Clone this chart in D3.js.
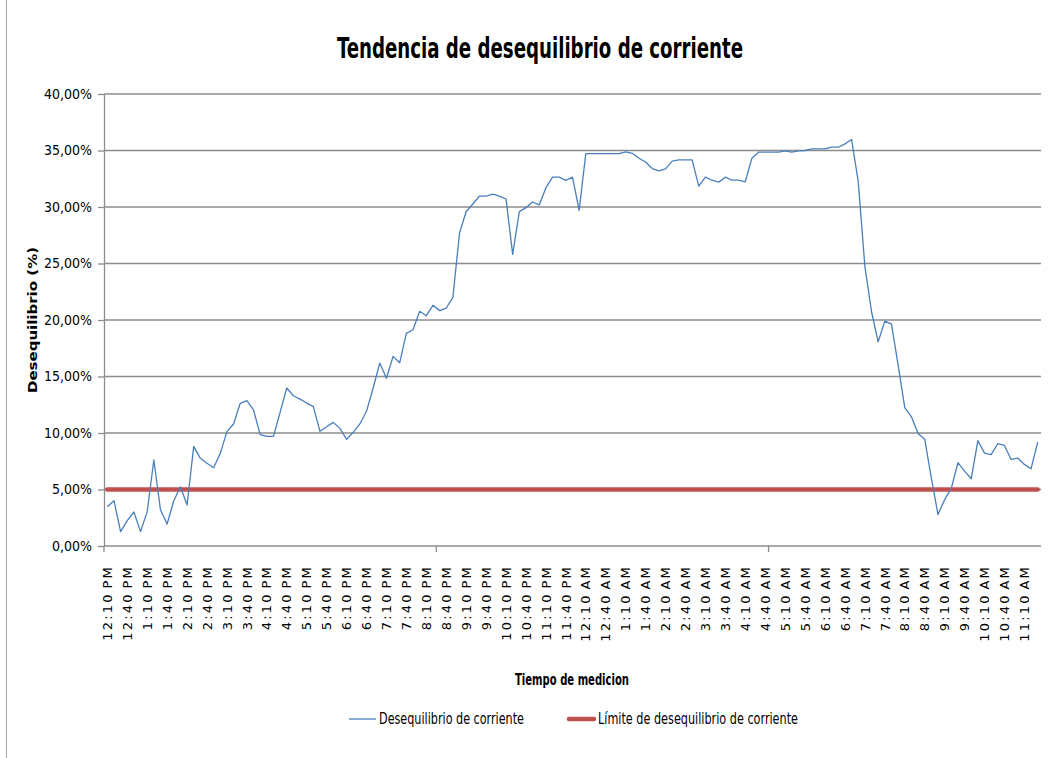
<!DOCTYPE html>
<html>
<head>
<meta charset="utf-8">
<script src="https://cdn.jsdelivr.net/npm/d3@7"></script>
<style>
  html, body { margin: 0; padding: 0; background: #fff; }
  svg { display: block; }
  .narrow { font-family: "Liberation Sans Narrow", "DejaVu Sans Condensed", "Open Sans", sans-serif; }
  .wide { font-family: "DejaVu Sans", Verdana, sans-serif; }
</style>
</head>
<body>
<svg id="chart" width="1064" height="758"></svg>
<script>
// Measurement start and sampling step (10 minutes), 141 samples
const startTime = new Date(2020, 0, 1, 12, 10);
const stepMinutes = 10;

// Current imbalance in percent, one value per sample
const imbalance = [
  3.48, 4.01, 1.27, 2.24, 3.01, 1.27, 3.04, 7.61, 3.19, 1.95,
  4.00, 5.25, 3.63, 8.82, 7.76, 7.32, 6.93, 8.20, 10.12, 10.80,
  12.63, 12.86, 12.04, 9.85, 9.70, 9.70, 11.83, 13.98, 13.30, 13.00,
  12.65, 12.33, 10.15, 10.56, 10.94, 10.41, 9.44, 10.06, 10.80, 11.92,
  13.98, 16.19, 14.84, 16.78, 16.22, 18.82, 19.14, 20.77, 20.38, 21.30,
  20.83, 21.06, 22.00, 27.70, 29.60, 30.27, 30.97, 30.97, 31.15, 30.97,
  30.71, 25.81, 29.59, 29.94, 30.44, 30.18, 31.71, 32.65, 32.65, 32.36,
  32.65, 29.70, 34.72, 34.72, 34.72, 34.72, 34.72, 34.72, 34.87, 34.75,
  34.31, 33.98, 33.40, 33.20, 33.38, 34.06, 34.17, 34.17, 34.17, 31.84,
  32.64, 32.37, 32.20, 32.64, 32.37, 32.37, 32.23, 34.32, 34.85, 34.85,
  34.85, 34.85, 34.97, 34.85, 34.97, 35.00, 35.15, 35.15, 35.15, 35.29,
  35.29, 35.59, 35.97, 32.25, 24.72, 20.73, 18.07, 19.90, 19.64, 16.00,
  12.25, 11.43, 9.95, 9.45, 6.00, 2.78, 4.10, 5.10, 7.37, 6.63,
  5.95, 9.32, 8.22, 8.08, 9.05, 8.90, 7.66, 7.78, 7.22, 6.83,
  9.20
];

// Imbalance limit in percent
const limitValue = 5;

// Category labels shown on the axis (every third sample)
const tickLabels = [
  "12:10 PM", "12:40 PM", "1:10 PM", "1:40 PM", "2:10 PM", "2:40 PM", "3:10 PM", "3:40 PM",
  "4:10 PM", "4:40 PM", "5:10 PM", "5:40 PM", "6:10 PM", "6:40 PM", "7:10 PM", "7:40 PM",
  "8:10 PM", "8:40 PM", "9:10 PM", "9:40 PM", "10:10 PM", "10:40 PM", "11:10 PM", "11:40 PM",
  "12:10 AM", "12:40 AM", "1:10 AM", "1:40 AM", "2:10 AM", "2:40 AM", "3:10 AM", "3:40 AM",
  "4:10 AM", "4:40 AM", "5:10 AM", "5:40 AM", "6:10 AM", "6:40 AM", "7:10 AM", "7:40 AM",
  "8:10 AM", "8:40 AM", "9:10 AM", "9:40 AM", "10:10 AM", "10:40 AM", "11:10 AM"
];

const yTicks = [0, 5, 10, 15, 20, 25, 30, 35, 40];

const seriesName = "Desequilibrio de corriente";
const limitName = "Límite de desequilibrio de corriente";

// Category keys: clock time of each sample
const fmtTime = d3.timeFormat("%-I:%M %p");
const categories = imbalance.map((_, i) => fmtTime(d3.timeMinute.offset(startTime, i * stepMinutes)));
const data = imbalance.map((v, i) => ({ cat: categories[i], v }));

const svg = d3.select("#chart");
const plot = { left: 104, right: 1041, top: 94, bottom: 546 };

const x = d3.scaleBand().domain(categories).range([plot.left, plot.right]).padding(0);
const cx = c => x(c) + x.bandwidth() / 2;
const y = d3.scaleLinear().domain([0, 40]).range([plot.bottom, plot.top]);

const esLocale = d3.formatLocale({ decimal: ",", thousands: ".", grouping: [3], currency: ["", " €"] });
const fmtPct = v => esLocale.format(".2f")(v) + "%";

const gridColor = "#8c8c8c";

// chart frame edge on the left
svg.append("line")
  .attr("x1", 6.5).attr("x2", 6.5).attr("y1", 0).attr("y2", 758)
  .attr("stroke", "#a6a6a6").attr("stroke-width", 1);

// Title
svg.append("text")
  .attr("class", "narrow")
  .attr("x", 540).attr("y", 58)
  .attr("text-anchor", "middle")
  .attr("font-size", 28).attr("font-weight", "bold")
  .attr("textLength", 406).attr("lengthAdjust", "spacingAndGlyphs")
  .attr("fill", "#000")
  .text("Tendencia de desequilibrio de corriente");

// Horizontal gridlines
svg.append("g")
  .selectAll("line")
  .data(yTicks)
  .join("line")
  .attr("x1", plot.left).attr("x2", plot.right)
  .attr("y1", d => y(d)).attr("y2", d => y(d))
  .attr("stroke", gridColor).attr("stroke-width", 1.3);

// Y axis
const yAxis = svg.append("g")
  .attr("transform", `translate(${plot.left},0)`)
  .call(d3.axisLeft(y).tickValues(yTicks).tickFormat(fmtPct).tickSize(6).tickSizeOuter(0));
yAxis.select(".domain").attr("stroke", gridColor).attr("stroke-width", 1.3);
yAxis.selectAll(".tick line").attr("stroke", gridColor).attr("stroke-width", 1.3);
yAxis.selectAll(".tick text")
  .attr("class", "narrow")
  .attr("x", -12)
  .attr("font-size", 14)
  .attr("fill", "#000");

// X axis with rotated category labels
const xAxis = svg.append("g")
  .attr("transform", `translate(0,${plot.bottom})`)
  .call(d3.axisBottom(x).tickValues(tickLabels).tickSize(0).tickSizeOuter(0));
xAxis.select(".domain").remove();
xAxis.selectAll(".tick text")
  .attr("class", "wide")
  .attr("font-size", 13)
  .attr("letter-spacing", 2.2)
  .attr("word-spacing", -2.5)
  .attr("fill", "#000")
  .attr("text-anchor", "end")
  .attr("transform", "rotate(-90)")
  .attr("x", -19).attr("y", 0).attr("dy", "0.36em");

// Major tick marks every 50 categories
svg.append("g")
  .selectAll("line")
  .data(categories.filter((_, i) => i % 50 === 0))
  .join("line")
  .attr("x1", d => x(d)).attr("x2", d => x(d))
  .attr("y1", plot.bottom).attr("y2", plot.bottom + 6)
  .attr("stroke", gridColor).attr("stroke-width", 1.3);

// Limit line
svg.append("line")
  .attr("x1", cx(categories[0])).attr("x2", cx(categories[categories.length - 1]))
  .attr("y1", y(limitValue)).attr("y2", y(limitValue))
  .attr("stroke", "#c0504d").attr("stroke-width", 4.5)
  .attr("stroke-linecap", "round");

// Imbalance series
svg.append("path")
  .datum(data)
  .attr("fill", "none")
  .attr("stroke", "#4a7ebb")
  .attr("stroke-width", 1.3)
  .attr("stroke-linejoin", "round")
  .attr("d", d3.line().x(d => cx(d.cat)).y(d => y(d.v)));

// Axis titles
svg.append("text")
  .attr("class", "wide")
  .attr("transform", "translate(37,320) rotate(-90)")
  .attr("text-anchor", "middle")
  .attr("font-size", 12.5).attr("font-weight", "bold")
  .attr("textLength", 146).attr("lengthAdjust", "spacingAndGlyphs")
  .text("Desequilibrio  (%)");

svg.append("text")
  .attr("class", "narrow")
  .attr("x", 572).attr("y", 685)
  .attr("text-anchor", "middle")
  .attr("font-size", 15).attr("font-weight", "bold")
  .attr("textLength", 114).attr("lengthAdjust", "spacingAndGlyphs")
  .text("Tiempo de medicion");

// Legend
const legend = svg.append("g").attr("class", "narrow");
legend.append("line")
  .attr("x1", 349).attr("x2", 376).attr("y1", 719).attr("y2", 719)
  .attr("stroke", "#4a7ebb").attr("stroke-width", 1.3);
legend.append("text")
  .attr("x", 379).attr("y", 724)
  .attr("font-size", 15)
  .attr("textLength", 145).attr("lengthAdjust", "spacingAndGlyphs")
  .text(seriesName);
legend.append("line")
  .attr("x1", 569).attr("x2", 594).attr("y1", 719).attr("y2", 719)
  .attr("stroke", "#c0504d").attr("stroke-width", 4.5)
  .attr("stroke-linecap", "round");
legend.append("text")
  .attr("x", 598).attr("y", 724)
  .attr("font-size", 15)
  .attr("textLength", 200).attr("lengthAdjust", "spacingAndGlyphs")
  .text(limitName);
</script>
</body>
</html>
